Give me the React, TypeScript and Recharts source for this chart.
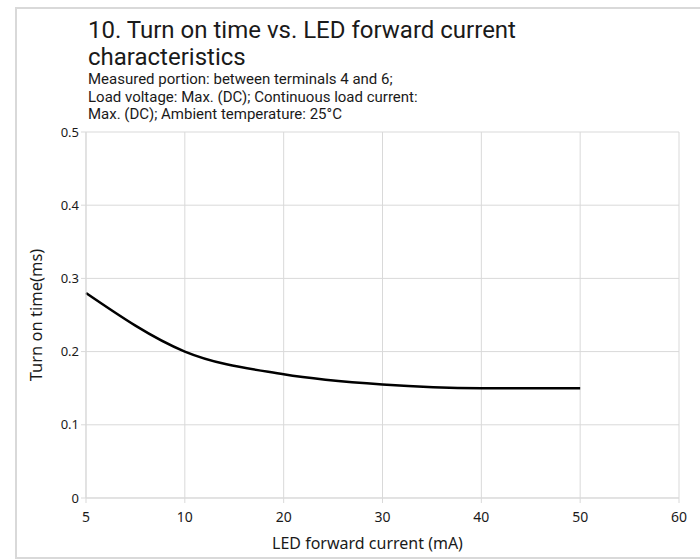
import { LineChart, Line, XAxis, YAxis, CartesianGrid } from 'recharts';

const currents = ['5', '10', '20', '30', '40', '50', '60'];
const turnOnTimes = [0.28, 0.2, 0.169, 0.155, 0.15, 0.15, null];
const yTicks = [0, 0.1, 0.2, 0.3, 0.4, 0.5];

const titleLines = ['10. Turn on time vs. LED forward current', 'characteristics'];
const subtitleLines = [
  'Measured portion: between terminals 4 and 6;',
  'Load voltage: Max. (DC); Continuous load current:',
  'Max. (DC); Ambient temperature: 25°C',
];

const data = currents.map((c, i) => ({ current: c, time: turnOnTimes[i] }));

const FONT = '"Noto Sans", "Open Sans", sans-serif';
const HEAD_FONT = 'Roboto, "Noto Sans", sans-serif';
const GRID = '#d9d9d9';
const INK = '#1a1a1a';

export default function App() {
  return (
    <div style={{ position: 'fixed', left: 0, top: 0, width: 700, height: 559, overflow: 'hidden', background: '#fff', fontFamily: FONT }}>
      <div
        style={{
          position: 'absolute',
          left: 15,
          top: 7,
          width: 700,
          height: 552,
          border: `2px solid ${GRID}`,
          boxSizing: 'border-box',
        }}
      />
      <div style={{ position: 'absolute', left: 88, top: 17, color: INK, fontFamily: HEAD_FONT }}>
        {titleLines.map((t) => (
          <div key={t} style={{ fontSize: 24, lineHeight: '26.5px', whiteSpace: 'nowrap' }}>{t}</div>
        ))}
      </div>
      <div style={{ position: 'absolute', left: 88, top: 71, color: INK, fontFamily: HEAD_FONT }}>
        {subtitleLines.map((t) => (
          <div key={t} style={{ fontSize: 15, lineHeight: '17.5px', whiteSpace: 'nowrap' }}>{t}</div>
        ))}
      </div>
      <div style={{ position: 'absolute', left: 0, top: 0 }}>
        <LineChart width={700} height={559} data={data} margin={{ top: 132, right: 21, bottom: 0, left: 30 }}>
          <CartesianGrid stroke={GRID} strokeWidth={1} />
          <XAxis
            dataKey="current"
            type="category"
            padding={{ left: 0, right: 0 }}
            height={61}
            stroke={GRID}
            tickLine={{ stroke: GRID }}
            tickSize={5}
            tickMargin={9}
            tick={{ fill: INK, fontSize: 14, fontFamily: FONT }}
            label={{
              content: (props: any) => {
                const vb = props.viewBox;
                return (
                  <text
                    x={vb.x + vb.width / 2 - 15}
                    y={vb.y + 45}
                    textAnchor="middle"
                    dominantBaseline="central"
                    fill={INK}
                    fontSize={16}
                    fontFamily={FONT}
                  >
                    LED forward current (mA)
                  </text>
                );
              },
            }}
          />
          <YAxis
            type="number"
            domain={[0, 0.5]}
            ticks={yTicks}
            width={56}
            stroke={GRID}
            tickLine={{ stroke: GRID }}
            tickSize={5}
            tick={{ fill: INK, fontSize: 13, fontFamily: FONT }}
            label={{
              content: (props: any) => {
                const vb = props.viewBox;
                const cx = vb.x + 5;
                const cy = vb.y + vb.height / 2;
                return (
                  <text
                    x={cx}
                    y={cy}
                    transform={`rotate(-90 ${cx} ${cy})`}
                    textAnchor="middle"
                    dominantBaseline="central"
                    fill={INK}
                    fontSize={16.5}
                    fontFamily={FONT}
                  >
                    Turn on time(ms)
                  </text>
                );
              },
            }}
          />
          <Line
            type="monotone"
            dataKey="time"
            stroke="#000"
            strokeWidth={2.5}
            dot={false}
            isAnimationActive={false}
          />
        </LineChart>
      </div>
    </div>
  );
}
